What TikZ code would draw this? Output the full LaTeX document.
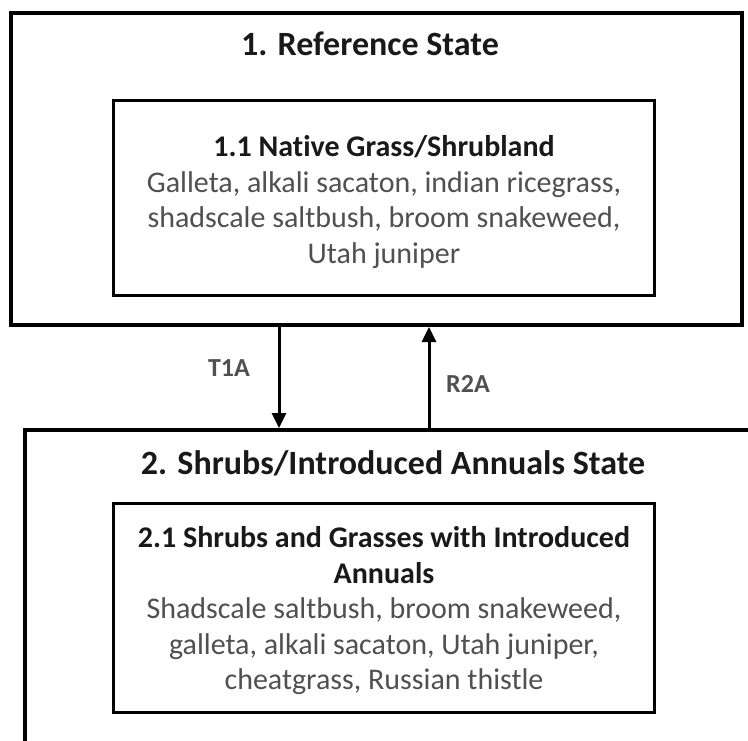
\documentclass[tikz,border=0pt]{standalone}
\usepackage{fontspec}
\setmainfont{Carlito}[Ligatures={NoCommon}]
\usetikzlibrary{arrows.meta}
\definecolor{bodygray}{RGB}{80,80,80}
\definecolor{titleblack}{RGB}{25,25,25}
\begin{document}
\begin{tikzpicture}[x=1pt,y=1pt,
  statebox/.style={draw=black, line width=4pt, fill=white, inner sep=0pt},
  commbox/.style={draw=black, line width=3pt, fill=white, inner sep=0pt},
  statetitle/.style={font=\bfseries\fontsize{34}{40}\selectfont, text=titleblack},
  commtext/.style={font=\fontsize{30}{35.5}\selectfont, text=bodygray, align=center, inner sep=0pt},
  translabel/.style={font=\bfseries\fontsize{26}{30}\selectfont, text=bodygray},
  transarrow/.style={line width=3pt, -{Triangle[length=15pt,width=14pt]}}
]
\useasboundingbox (0,0) rectangle (748,-740);
\clip (0,0) rectangle (748,-740);
\fill[white] (0,0) rectangle (748,-740);
% state boxes
\node[statebox, minimum width=731pt, minimum height=312pt] (s1) at (376.5,-169) {};
\node[statebox, minimum width=760pt, minimum height=350pt] (s2) at (405,-605) {};
% community boxes
\node[commbox, minimum width=541pt, minimum height=195pt] (c1) at (383.5,-197.5) {};
\node[commbox, minimum width=541pt, minimum height=209pt] (c2) at (383.5,-607.5) {};
% titles
\node[statetitle] (t1) at (370,-44) {1. Reference State};
\node[statetitle] (t2) at (393,-463) {2. Shrubs/Introduced Annuals State};
% community text
\node[commtext] (c1t) at (384,-202) {\textcolor{titleblack}{\bfseries 1.1 Nat\kern0pt ive Grass/Shrubland}\\
Galleta, alkali sacaton, indian ricegrass,\\
shadscale saltbush,  broom  snakeweed,\\
Utah juniper};
\node[commtext] (c2t) at (384,-611) {\textcolor{titleblack}{\bfseries 2.1 Shrubs and Grasses with Introduced}\\
\textcolor{titleblack}{\bfseries Annuals}\\
Shadscale saltbush,  broom  snakeweed,\\
galleta, alkali sacaton, Utah juniper,\\
cheatgrass, Russian thistle};
% transitions
\coordinate (xt) at (279,0);
\coordinate (xr) at (429,0);
\draw[transarrow] (s1.south -| xt) -- (s2.north -| xt);
\draw[transarrow] (s2.north -| xr) -- (s1.south -| xr);
\node[translabel] (lt) at (229,-368) {T1A};
\node[translabel] (lr) at (468,-384) {R2A};
\end{tikzpicture}
\end{document}
